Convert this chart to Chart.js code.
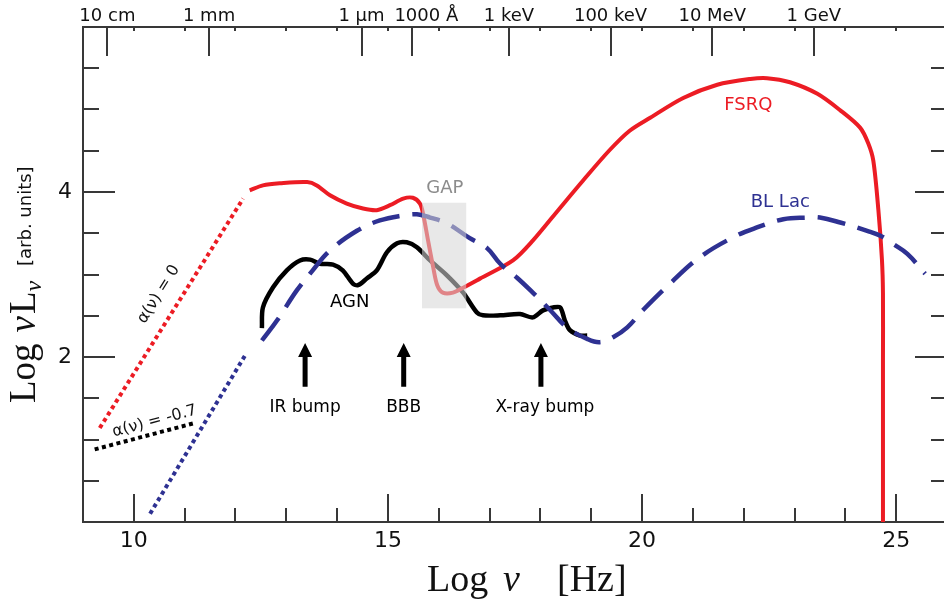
<!DOCTYPE html>
<html><head><meta charset="utf-8">
<script src="https://cdn.jsdelivr.net/npm/chart.js@4/dist/chart.umd.min.js"></script>
<style>html,body{margin:0;padding:0;overflow:hidden;background:#fff}canvas{display:block}</style>
</head><body>
<canvas id="c" width="960" height="603" style="width:960px;height:603px"></canvas>
<script>
// ---- data (log nu [Hz], log nuL_nu [arb. units]) ----
const fsrqLogNu = [12.28,12.54,12.87,13.41,13.60,13.86,14.19,14.51,14.78,15.04,15.30,15.49,15.63,15.69,15.79,15.89,15.97,16.08,16.28,16.48,16.81,17.46,17.85,18.39,18.84,19.35,19.75,20.16,20.81,21.48,22.13,22.46,22.91,23.45,23.90,24.29,24.45,24.55,24.65,24.72,24.74,24.74,24.74];
const fsrqLogL  = [4.02,4.08,4.105,4.12,4.08,3.96,3.86,3.80,3.78,3.84,3.92,3.93,3.86,3.74,3.41,3.09,2.87,2.78,2.78,2.84,2.95,3.17,3.41,3.81,4.14,4.50,4.74,4.90,5.14,5.30,5.37,5.38,5.33,5.19,4.99,4.78,4.59,4.38,3.78,3.18,2.77,1.96,0];

const blLacLogNu = [12.52,12.82,13.21,13.52,13.86,14.39,14.84,15.30,15.57,15.83,16.16,16.61,16.95,17.21,17.54,17.85,18.19,18.52,18.92,19.17,19.43,19.71,20.02,20.55,21.14,21.79,22.26,22.78,23.25,23.50,23.90,24.43,24.69,24.94,25.22,25.57];
const blLacLogL  = [2.20,2.445,2.81,3.05,3.29,3.53,3.655,3.716,3.73,3.69,3.62,3.44,3.32,3.13,2.96,2.78,2.57,2.36,2.22,2.18,2.24,2.36,2.57,2.89,3.21,3.45,3.57,3.67,3.69,3.69,3.63,3.53,3.47,3.37,3.25,3.01];

const agnLogNu = [12.52,12.54,12.74,13.01,13.27,13.47,13.66,13.92,14.11,14.31,14.41,14.59,14.78,14.98,15.18,15.37,15.57,15.83,16.16,16.48,16.75,16.87,17.21,17.60,17.85,18.05,18.25,18.39,18.48,18.58,18.78,18.92];
const agnLogL  = [2.35,2.60,2.845,3.05,3.17,3.18,3.13,3.12,3.05,2.89,2.87,2.955,3.05,3.27,3.38,3.39,3.33,3.17,2.99,2.78,2.54,2.505,2.505,2.52,2.48,2.565,2.60,2.60,2.445,2.325,2.26,2.26];

const alpha0LogNu = [9.33, 12.15];   const alpha0LogL = [1.14, 3.92];
const blueExtLogNu = [10.32, 12.19]; const blueExtLogL = [0.10, 2.02];
const alpha07LogNu = [9.23, 11.20];  const alpha07LogL = [0.88, 1.20];

const gapBox = [15.67, 16.54, 2.59, 3.87];          // logNu from, to, logL from, to
const arrowLogNu = [13.37, 15.31, 18.01];
const arrowLabels = ['IR bump', 'BBB', 'X-ray bump'];

const xTickValues = [10, 15, 20, 25];
const yTickValues = [2, 4];
const topTickValues = [9.48, 11.48, 14.48, 15.48, 17.38, 19.38, 21.38, 23.38];
const topTickLabels = ['10 cm', '1 mm', '1 μm', '1000 Å', '1 keV', '100 keV', '10 MeV', '1 GeV'];

const RED = '#ec1c24', BLUE = '#2e3192', AXIS = '#383838';
const zip = (a, b) => a.map((v, i) => ({x: v, y: b[i]}));

const deco = {
  id: 'deco',
  beforeDatasetsDraw(chart) {
    const {ctx, chartArea: a, scales: {x, y}} = chart;
    ctx.save();
    ctx.strokeStyle = AXIS; ctx.lineWidth = 2; ctx.lineCap = 'butt';
    ctx.strokeRect(a.left, a.top, a.right - a.left, a.bottom - a.top);
    ctx.beginPath();
    for (let v = 0.5; v < 6; v += 0.5) {
      const py = Math.round(y.getPixelForValue(v));
      const len = yTickValues.includes(v) ? 32 : 16;
      ctx.moveTo(a.left, py); ctx.lineTo(a.left + len, py);
      ctx.moveTo(a.right, py); ctx.lineTo(a.right - len, py);
    }
    for (let v = 10; v <= 25; v++) {
      const px = Math.round(x.getPixelForValue(v));
      const len = xTickValues.includes(v) ? 28 : 14;
      ctx.moveTo(px, a.bottom); ctx.lineTo(px, a.bottom - len);
      ctx.moveTo(px, a.top); ctx.lineTo(px, a.top + 4);
    }
    topTickValues.forEach(v => {
      const px = Math.round(x.getPixelForValue(v));
      ctx.moveTo(px, a.top); ctx.lineTo(px, a.top + 29);
    });
    ctx.stroke();
    // top labels
    ctx.fillStyle = '#111'; ctx.font = '18px "DejaVu Sans"'; ctx.textAlign = 'center'; ctx.textBaseline = 'alphabetic';
    topTickValues.forEach((v, i) => {
      let px = x.getPixelForValue(v);
      if (topTickLabels[i] === '1000 Å') px += 14;
      ctx.fillText(topTickLabels[i], px, 21);
    });
    // x title
    ctx.textAlign = 'left';
    ctx.font = '38px "Liberation Serif"';
    ctx.fillText('Log', 427, 591);
    ctx.font = 'italic 38px "Liberation Serif"';
    ctx.fillText('ν', 503, 591);
    ctx.font = '38px "Liberation Serif"';
    ctx.fillText('[Hz]', 557, 591);
    // y title (rotated)
    ctx.save();
    ctx.translate(35, 403); ctx.rotate(-Math.PI / 2);
    let cx = 0;
    ctx.font = '37px "Liberation Serif"'; ctx.fillText('Log', cx, 0); cx += ctx.measureText('Log').width + 11;
    ctx.font = 'italic 37px "Liberation Serif"'; ctx.fillText('ν', cx, 0); cx += ctx.measureText('ν').width + 2;
    ctx.font = '37px "Liberation Serif"'; ctx.fillText('L', cx, 0); cx += ctx.measureText('L').width;
    ctx.font = 'italic 24px "Liberation Serif"'; ctx.fillText('ν', cx, 6);
    ctx.restore();
    ctx.save();
    ctx.translate(31, 266); ctx.rotate(-Math.PI / 2);
    ctx.font = '18px "DejaVu Sans"'; ctx.fillText('[arb. units]', 0, 0);
    ctx.restore();
    ctx.restore();
  },
  afterDatasetsDraw(chart) {
    const {ctx, scales: {x, y}} = chart;
    ctx.save();
    // GAP box (semi-transparent over the curves)
    const gx0 = x.getPixelForValue(gapBox[0]), gx1 = x.getPixelForValue(gapBox[1]);
    const gy0 = y.getPixelForValue(gapBox[3]), gy1 = y.getPixelForValue(gapBox[2]);
    ctx.fillStyle = 'rgba(214,214,214,0.56)';
    ctx.fillRect(gx0, gy0, gx1 - gx0, gy1 - gy0);
    // arrows
    ctx.fillStyle = '#000';
    arrowLogNu.forEach(v => {
      const px = x.getPixelForValue(v);
      const tip = y.getPixelForValue(2.17), base = y.getPixelForValue(1.64);
      ctx.beginPath();
      ctx.moveTo(px, tip); ctx.lineTo(px + 7, tip + 14); ctx.lineTo(px + 2.5, tip + 14);
      ctx.lineTo(px + 2.5, base); ctx.lineTo(px - 2.5, base); ctx.lineTo(px - 2.5, tip + 14);
      ctx.lineTo(px - 7, tip + 14); ctx.closePath(); ctx.fill();
    });
    // text labels
    ctx.textAlign = 'center'; ctx.textBaseline = 'middle';
    ctx.font = '17px "DejaVu Sans"';
    arrowLogNu.forEach((v, i) => ctx.fillText(arrowLabels[i], x.getPixelForValue(v) + (i === 2 ? 4 : 0), y.getPixelForValue(1.39)));
    ctx.font = '18px "DejaVu Sans"';
    ctx.fillText('AGN', x.getPixelForValue(14.25), y.getPixelForValue(2.66));
    ctx.fillStyle = '#8c8c8c';
    ctx.fillText('GAP', x.getPixelForValue(16.12), y.getPixelForValue(4.04));
    ctx.fillStyle = RED;
    ctx.fillText('FSRQ', x.getPixelForValue(22.09), y.getPixelForValue(5.05));
    ctx.fillStyle = BLUE;
    ctx.fillText('BL Lac', x.getPixelForValue(22.72), y.getPixelForValue(3.87));
    // rotated alpha labels
    ctx.fillStyle = '#111'; ctx.font = '16px "DejaVu Sans"';
    ctx.save();
    ctx.translate(x.getPixelForValue(10.49), y.getPixelForValue(2.76)); ctx.rotate(-58 * Math.PI / 180);
    ctx.fillText('α(ν) = 0', 0, 0); ctx.restore();
    ctx.save();
    ctx.translate(x.getPixelForValue(10.41), y.getPixelForValue(1.22)); ctx.rotate(-15 * Math.PI / 180);
    ctx.fillText('α(ν) = -0.7', 0, 0); ctx.restore();
    ctx.restore();
  }
};

Chart.defaults.font.family = '"DejaVu Sans"';
new Chart(document.getElementById('c'), {
  type: 'line',
  data: {
    datasets: [
      {data: zip(blLacLogNu, blLacLogL), borderColor: BLUE, borderWidth: 4.5, borderDash: [28, 13], tension: 0.4},
      {data: zip(fsrqLogNu, fsrqLogL), borderColor: RED, borderWidth: 4, tension: 0.3},
      {data: zip(agnLogNu, agnLogL), borderColor: '#000', borderWidth: 4.5, tension: 0.3},
      {data: zip(alpha0LogNu, alpha0LogL), borderColor: RED, borderWidth: 4, borderDash: [4, 3.5]},
      {data: zip(blueExtLogNu, blueExtLogL), borderColor: BLUE, borderWidth: 4, borderDash: [4, 3.5]},
      {data: zip(alpha07LogNu, alpha07LogL), borderColor: '#000', borderWidth: 4, borderDash: [4, 3.5]}
    ]
  },
  options: {
    responsive: false, animation: false, devicePixelRatio: 1,
    elements: {point: {radius: 0}, line: {fill: false, borderCapStyle: 'butt', borderJoinStyle: 'round'}},
    layout: {padding: {top: 27, right: 13, left: 0, bottom: 0}},
    plugins: {legend: {display: false}, tooltip: {enabled: false}},
    scales: {
      x: {type: 'linear', min: 9, max: 26,
        grid: {display: false, drawTicks: false}, border: {display: false},
        ticks: {color: '#111', font: {size: 22}, padding: 6, maxRotation: 0, autoSkip: false},
        afterBuildTicks: s => { s.ticks = xTickValues.map(v => ({value: v})); },
        afterFit: s => { s.height = 81; }},
      y: {type: 'linear', min: 0, max: 6,
        grid: {display: false, drawTicks: false}, border: {display: false},
        ticks: {color: '#111', font: {size: 22}, padding: 11, autoSkip: false},
        afterBuildTicks: s => { s.ticks = yTickValues.map(v => ({value: v})); },
        afterFit: s => { s.width = 83; }}
    }
  },
  plugins: [deco]
});
</script>
</body></html>
